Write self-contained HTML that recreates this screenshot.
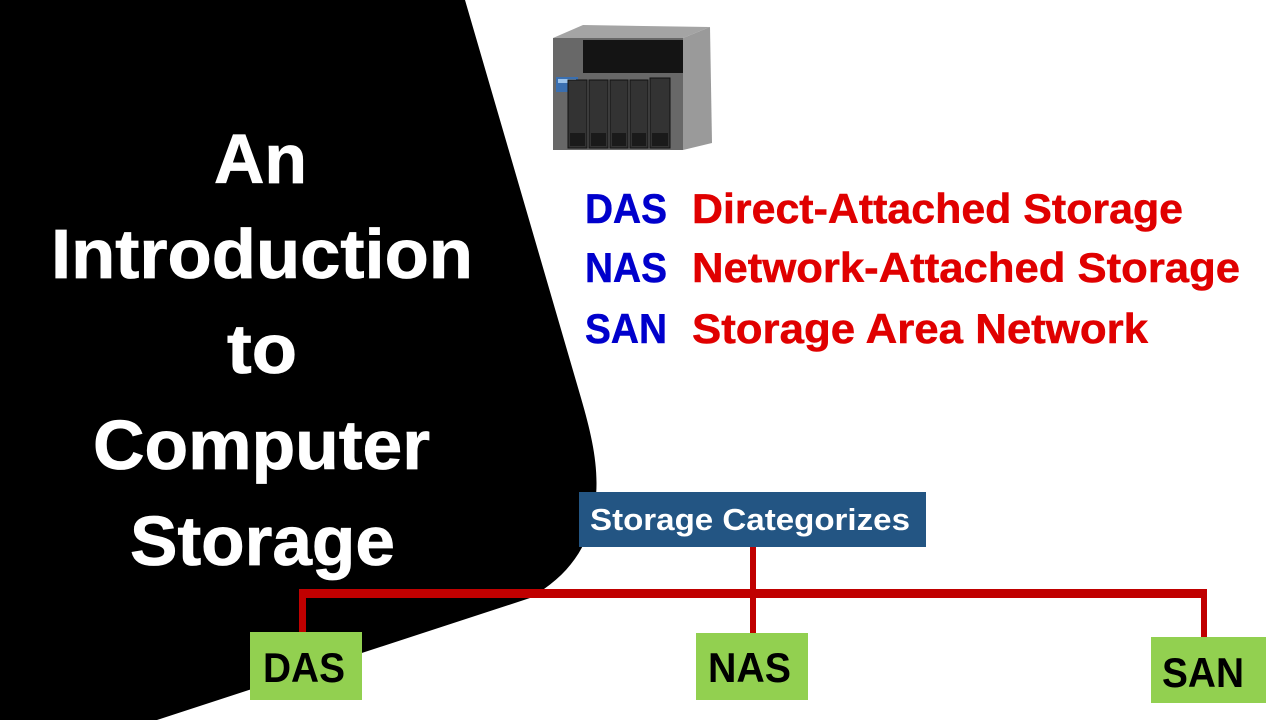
<!DOCTYPE html>
<html>
<head>
<meta charset="utf-8">
<style>
html,body{margin:0;padding:0;background:#fff;}
body{width:1280px;height:720px;overflow:hidden;}
svg{display:block;}
text{font-family:"Liberation Sans",sans-serif;font-weight:bold;}
</style>
</head>
<body>
<svg width="1280" height="720" viewBox="0 0 1280 720" xmlns="http://www.w3.org/2000/svg">
  <rect x="0" y="0" width="1280" height="720" fill="#ffffff"/>
  <!-- black blob -->
  <path d="M0,0 L465,0 L581,398 C592,436 600,470 595,505 C590,545 570,575 530,598 L157,720 L0,720 Z" fill="#000000"/>

  <!-- title -->
  <g fill="#ffffff" stroke="#ffffff" stroke-width="0.8" font-size="70">
    <text x="214" y="183" textLength="93" lengthAdjust="spacingAndGlyphs">An</text>
    <text x="51" y="278" textLength="422" lengthAdjust="spacingAndGlyphs">Introduction</text>
    <text x="227" y="373" textLength="70" lengthAdjust="spacingAndGlyphs">to</text>
    <text x="93" y="469" textLength="337" lengthAdjust="spacingAndGlyphs">Computer</text>
    <text x="130" y="565" textLength="265" lengthAdjust="spacingAndGlyphs">Storage</text>
  </g>

  <!-- NAS device -->
  <g>
    <!-- top face -->
    <polygon points="553,38 583,25 710,27 683,38" fill="#a4a4a4"/>
    <!-- right side -->
    <polygon points="683,38 710,27 712,143 683,150" fill="#9a9a9a"/>
    <!-- front face -->
    <rect x="553" y="38" width="130" height="112" fill="#686868"/>
    <rect x="583" y="40" width="100" height="33" fill="#141414"/>
    <rect x="556" y="77" width="22" height="15" fill="#3a6fb0"/>
    <rect x="558" y="79" width="18" height="4" fill="#9cc3ea"/>
    <g fill="#333333" stroke="#111" stroke-width="1">
      <rect x="568" y="80" width="19" height="68"/>
      <rect x="589" y="80" width="19" height="68"/>
      <rect x="610" y="80" width="18" height="68"/>
      <rect x="630" y="80" width="18" height="68"/>
      <rect x="650" y="78" width="20" height="70"/>
    </g>
    <g fill="#1a1a1a">
      <rect x="570" y="133" width="15" height="13"/>
      <rect x="591" y="133" width="15" height="13"/>
      <rect x="612" y="133" width="14" height="13"/>
      <rect x="632" y="133" width="14" height="13"/>
      <rect x="652" y="133" width="16" height="13"/>
    </g>
  </g>

  <!-- acronym list -->
  <g font-size="42" stroke-width="0.5">
    <text x="585" y="223" fill="#0000cc" stroke="#0000cc" textLength="82" lengthAdjust="spacingAndGlyphs">DAS</text>
    <text x="585" y="282" fill="#0000cc" stroke="#0000cc" textLength="82" lengthAdjust="spacingAndGlyphs">NAS</text>
    <text x="585" y="343" fill="#0000cc" stroke="#0000cc" textLength="82" lengthAdjust="spacingAndGlyphs">SAN</text>
    <text x="692" y="223" fill="#e00000" stroke="#e00000" textLength="491" lengthAdjust="spacingAndGlyphs">Direct-Attached Storage</text>
    <text x="692" y="282" fill="#e00000" stroke="#e00000" textLength="548" lengthAdjust="spacingAndGlyphs">Network-Attached Storage</text>
    <text x="692" y="343" fill="#e00000" stroke="#e00000" textLength="456" lengthAdjust="spacingAndGlyphs">Storage Area Network</text>
  </g>

  <!-- connectors -->
  <g fill="#c00000">
    <rect x="750" y="546" width="6" height="88"/>
    <rect x="299" y="589" width="908" height="9"/>
    <rect x="299" y="589" width="7" height="44"/>
    <rect x="1201" y="589" width="6" height="49"/>
  </g>

  <!-- root box -->
  <rect x="579" y="492" width="347" height="55" fill="#235583"/>
  <text x="590" y="530" fill="#ffffff" font-size="31" textLength="320" lengthAdjust="spacingAndGlyphs">Storage Categorizes</text>

  <!-- child boxes -->
  <rect x="250" y="632" width="112" height="68" fill="#92d050"/>
  <rect x="696" y="633" width="112" height="67" fill="#92d050"/>
  <rect x="1151" y="637" width="115" height="66" fill="#92d050"/>
  <g fill="#000000" font-size="42">
    <text x="263" y="682" textLength="82" lengthAdjust="spacingAndGlyphs">DAS</text>
    <text x="708" y="682" textLength="83" lengthAdjust="spacingAndGlyphs">NAS</text>
    <text x="1162" y="687" textLength="82" lengthAdjust="spacingAndGlyphs">SAN</text>
  </g>
</svg>
</body>
</html>
